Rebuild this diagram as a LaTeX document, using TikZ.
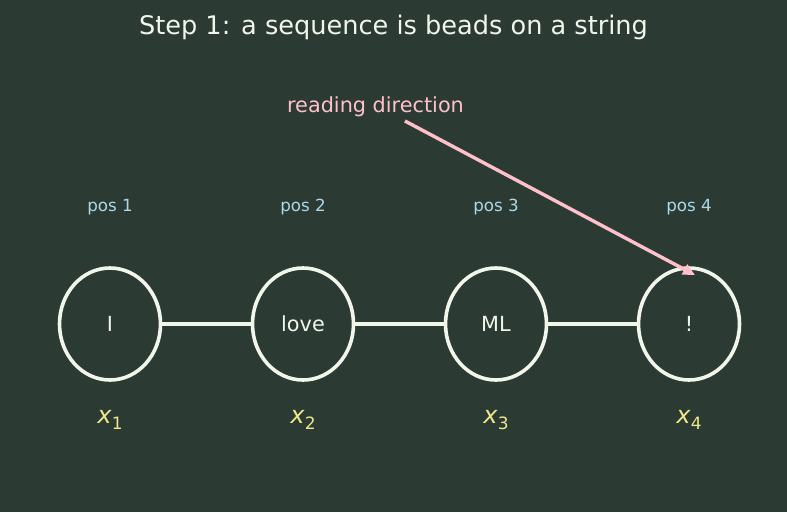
\documentclass[tikz,border=0pt]{standalone}
\usepackage{fontspec}
\setmainfont{DejaVu Sans}
\usetikzlibrary{arrows.meta,shapes.geometric}
\definecolor{bg}{HTML}{2B3B34}
\definecolor{ink}{HTML}{F2F5EA}
\definecolor{posc}{HTML}{ADD8E6}
\definecolor{xc}{HTML}{F0E68C}
\definecolor{pinkc}{HTML}{FFC0CB}
\tikzset{
  bead/.style={draw=ink, line width=3.6pt, ellipse, minimum width=101pt, minimum height=112pt, inner sep=0pt, text=ink, font=\fontsize{20.8}{24}\selectfont},
  poslab/.style={text=posc, font=\fontsize{16.7}{20}\selectfont},
  xlab/.style={text=xc, font=\fontsize{24}{28}\selectfont},
  string/.style={draw=ink, line width=3.6pt},
}
\begin{document}
\begin{tikzpicture}[x=1pt,y=-1pt]
\fill[bg] (0,0) rectangle (787,512);
\useasboundingbox (0,0) rectangle (787,512);
\node[text=ink, font=\fontsize{25.6}{30}\selectfont] (title) at (393.5,27) {Step 1: a sequence is beads on a string};
\foreach \i/\xx/\t in {1/110/I,2/303/love,3/496/ML,4/689/!}{
  \node[bead] (b\i) at (\xx,324) {\t};
  \node[poslab] (p\i) at (\xx,207.5) {pos \i};
  \node[xlab] (x\i) at (\xx,420) {\textit{x}\raisebox{-0.45ex}{\fontsize{17}{20}\selectfont\i}};
}
\draw[string] (b1) -- (b2);
\draw[string] (b2) -- (b3);
\draw[string] (b3) -- (b4);
\node[text=pinkc, font=\fontsize{20.8}{24}\selectfont] (rd) at (375.5,107) {reading direction};
\coordinate (rs) at (405,121);
\coordinate (re) at (695,275);
\draw[pinkc, line width=3.4pt, -{Stealth[length=12pt,width=11pt,inset=0pt]}] (rs) -- (re);
\end{tikzpicture}
\end{document}
